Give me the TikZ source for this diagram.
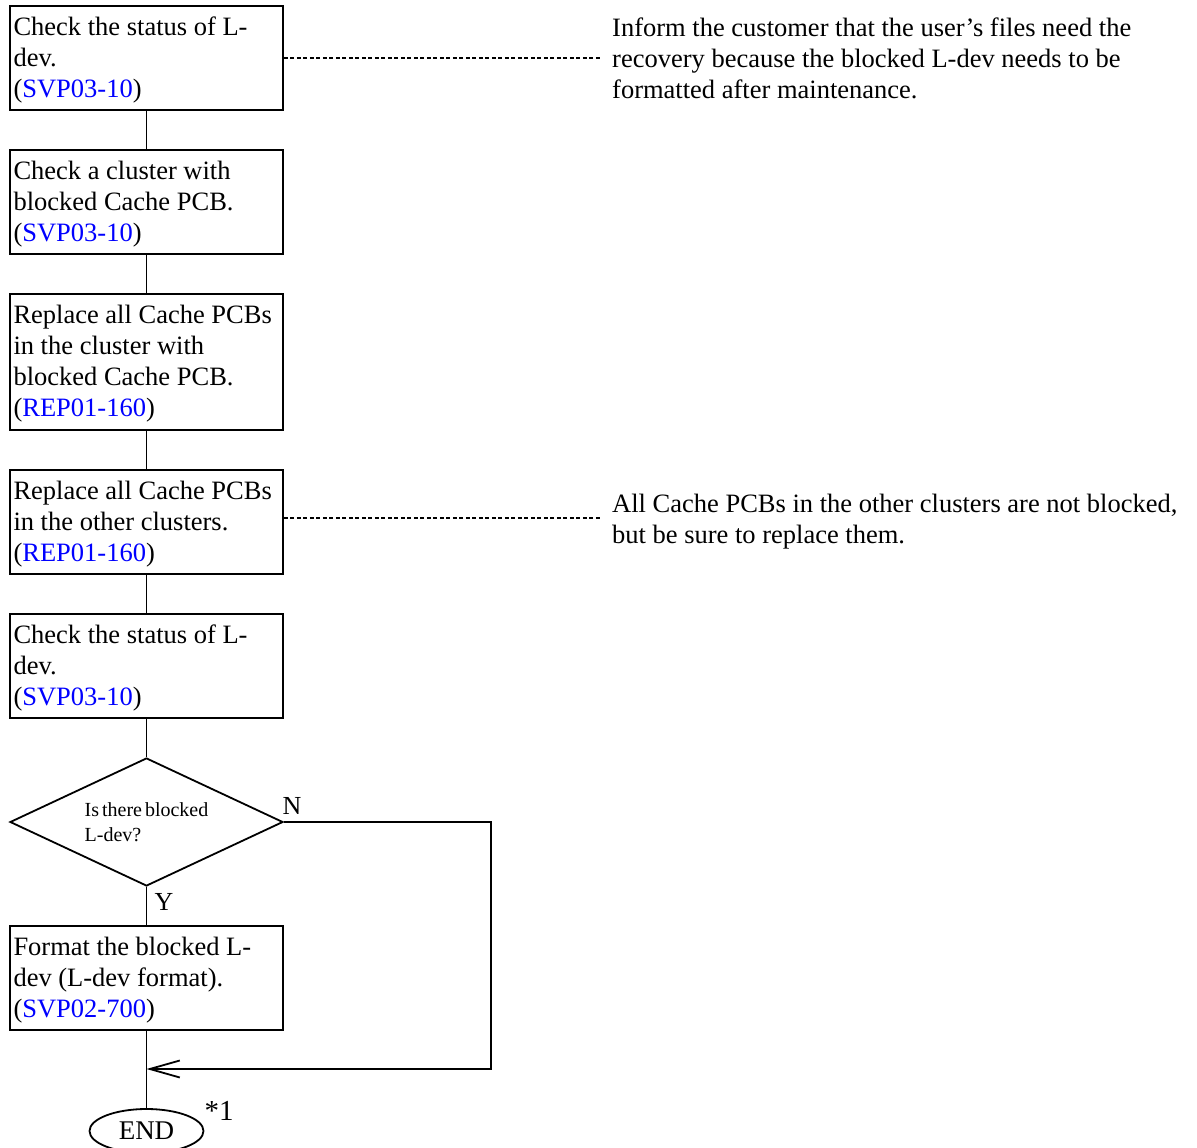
\documentclass[tikz,border=0pt]{standalone}
\usepackage{fontspec}
\setmainfont{Liberation Serif}
\newfontfamily\tightfont[WordSpace=0.6]{Liberation Serif}
\usetikzlibrary{shapes.geometric,arrows.meta}
\definecolor{linkblue}{RGB}{0,0,255}
\newcommand{\lnk}[1]{(\textcolor{linkblue}{#1})}
\newcommand{\natsp}{\spaceskip=0pt\xspaceskip=0pt\relax\rule{0pt}{22.5pt}}
\begin{document}
\begin{tikzpicture}[x=1pt,y=-1pt,
  stepbox/.style={draw, line width=1.8pt, minimum width=273pt, text width=266pt,
    inner xsep=3.5pt, inner ysep=0pt, align=left, font=\fontsize{26.5}{31}\selectfont},
  note/.style={inner xsep=12pt, inner ysep=0pt, align=left, anchor=west,
    font=\fontsize{26.5}{31}\selectfont},
  lbl/.style={inner sep=0pt, font=\fontsize{26}{31}\selectfont},
  conn/.style={line width=1.8pt},
  dash line/.style={line width=1.2pt, dash pattern=on 4pt off 2.5pt}]
\useasboundingbox (0,0) rectangle (1197,1148);

\node[stepbox, minimum height=104pt] (b1) at (146.5,58) {\natsp Check the status of L-\\dev.\\\lnk{SVP03-10}};
\node[stepbox, minimum height=104pt] (b2) at (146.5,202) {\natsp Check a cluster with\\blocked Cache PCB.\\\lnk{SVP03-10}};
\node[stepbox, minimum height=136pt] (b3) at (146.5,362) {\natsp Replace all Cache PCBs\\in the cluster with\\blocked Cache PCB.\\\lnk{REP01-160}};
\node[stepbox, minimum height=104pt] (b4) at (146.5,522) {\natsp Replace all Cache PCBs\\in the other clusters.\\\lnk{REP01-160}};
\node[stepbox, minimum height=104pt] (b5) at (146.5,666) {\natsp Check the status of L-\\dev.\\\lnk{SVP03-10}};
\node[draw, diamond, aspect=2.133, line width=1.8pt, minimum width=273pt, minimum height=128pt,
  inner sep=0pt, align=left, font=\tightfont\fontsize{20}{25}\selectfont] (d) at (146.5,822) {Is there blocked\\L-dev?};
\node[stepbox, minimum height=104pt] (b6) at (146.5,978) {\natsp Format the blocked L-\\dev (L-dev format).\\\lnk{SVP02-700}};
\node[draw, ellipse, line width=1.8pt, minimum width=114pt, minimum height=44pt,
  inner sep=0pt, font=\fontsize{27}{30}\selectfont] (end) at (146.5,1131) {END};

\node[lbl] (nlab) at (292,806) {N};
\node[lbl] (ylab) at (164,902) {Y};
\node[lbl, font=\fontsize{29}{31}\selectfont] (star) at (219,1111) {*1};

\node[note] (n1) at (600,58) {Inform the customer that the user’s files need the\\recovery because the blocked L-dev needs to be\\formatted after maintenance.};
\node[note] (n2) at (600,521.5) {All Cache PCBs in the other clusters are not blocked,\\but be sure to replace them.};

\draw[conn] (b1.south) -- (b2.north);
\draw[conn] (b2.south) -- (b3.north);
\draw[conn] (b3.south) -- (b4.north);
\draw[conn] (b4.south) -- (b5.north);
\draw[conn] (b5.south) -- (d.north);
\draw[conn] (d.south) -- (b6.north);
\draw[conn] (b6.south) -- (end.north);

\coordinate (m) at (146.5,1069);
\coordinate (r) at (491,1069);
\draw[conn, -{Straight Barb[length=30pt,width=17pt,line width=1.8pt]}] (d.east) -- (d.east -| r) -- (r) -- (m);

\draw[dash line] (b1.east) -- (n1.west);
\draw[dash line] ([yshift=4pt]b4.east) -- ([yshift=4pt]b4.east -| n2.west);
\end{tikzpicture}
\end{document}
